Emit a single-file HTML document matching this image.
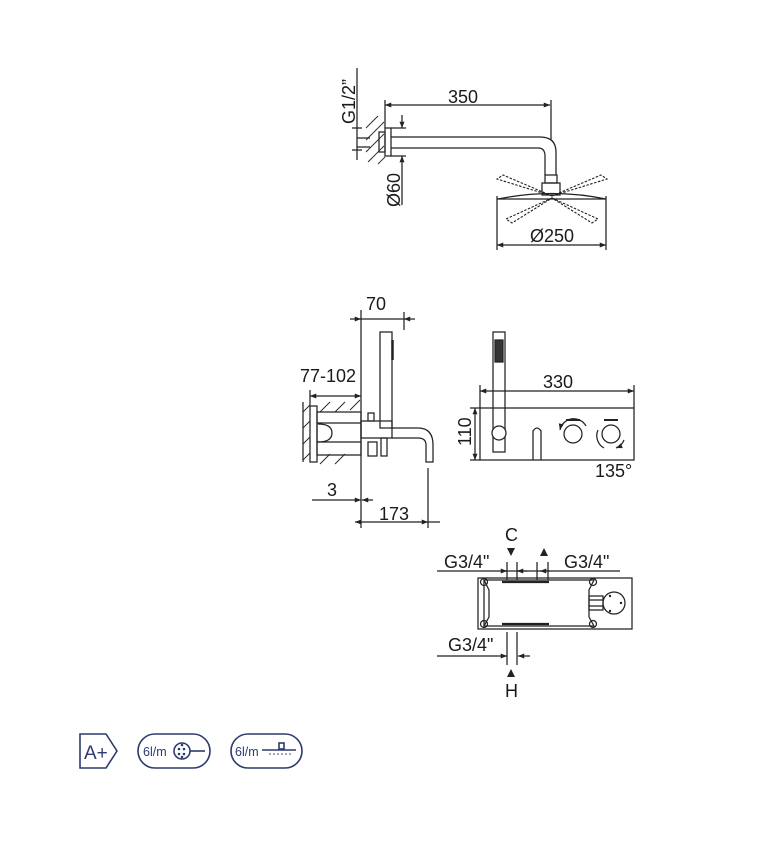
<!DOCTYPE html>
<html><head><meta charset="utf-8"><style>
html,body{margin:0;padding:0;background:#fff;}
svg{display:block;}
text{font-family:"Liberation Sans",sans-serif;fill:#1a1a1a;}
</style></head><body>
<svg width="778" height="853" viewBox="0 0 778 853" xmlns="http://www.w3.org/2000/svg">
<defs>
<marker id="a" viewBox="0 0 10 10" refX="10" refY="5" markerWidth="6" markerHeight="5" orient="auto-start-reverse"><path d="M0,1 L10,5 L0,9 z" fill="#222"/></marker>
</defs>
<g stroke="#222" stroke-width="1.25" fill="none">
<!-- TOP: shower arm -->
<line x1="357" y1="68" x2="357" y2="160"/>
<line x1="352" y1="128" x2="362" y2="128"/><line x1="352" y1="150" x2="362" y2="150"/>
<line x1="357" y1="138" x2="370" y2="138"/><line x1="357" y1="147" x2="370" y2="147"/>
<g stroke-width="0.9">
<line x1="366" y1="128" x2="378" y2="116"/><line x1="366" y1="140" x2="384" y2="122"/><line x1="366" y1="152" x2="384" y2="134"/><line x1="368" y1="162" x2="384" y2="146"/><line x1="378" y1="164" x2="385" y2="157"/>
</g>
<rect x="379" y="132" width="6" height="20"/>
<rect x="385" y="128" width="6" height="28"/>
<line x1="385" y1="105" x2="550" y2="105" marker-start="url(#a)" marker-end="url(#a)"/>
<line x1="385" y1="100" x2="385" y2="128"/><line x1="551" y1="100" x2="551" y2="140"/>
<path d="M391,137 H540 Q556,137 556,152 V175 M391,148 H538 Q545,148 545,156 V175"/>
<line x1="402" y1="115" x2="402" y2="128" marker-end="url(#a)"/>
<line x1="402" y1="205" x2="402" y2="156" marker-end="url(#a)"/>
<line x1="391" y1="128" x2="406" y2="128"/><line x1="391" y1="156" x2="406" y2="156"/>
<rect x="545" y="175" width="12" height="8"/>
<rect x="542" y="183" width="18" height="12"/>
<g stroke-dasharray="2.5 1.5" stroke-width="1.1">
<path d="M552,196 L497,179 L503,175 Z"/><path d="M552,196 L607,179 L601,175 Z"/>
<path d="M552,198 L506,219 L512,223 Z"/><path d="M552,198 L598,219 L592,223 Z"/>
</g>
<path d="M498,199 Q552,188 606,199" />
<line x1="497" y1="196" x2="497" y2="250"/><line x1="606" y1="196" x2="606" y2="250"/>
<line x1="497" y1="199" x2="606" y2="199"/>
<line x1="497" y1="245" x2="606" y2="245" marker-start="url(#a)" marker-end="url(#a)"/>

<!-- MIDDLE LEFT -->
<line x1="361" y1="310" x2="361" y2="528"/>
<line x1="404" y1="312" x2="404" y2="330"/>
<line x1="350" y1="319" x2="361" y2="319" marker-end="url(#a)"/>
<line x1="415" y1="319" x2="404" y2="319" marker-end="url(#a)"/>
<line x1="361" y1="319" x2="404" y2="319"/>
<rect x="380" y="332" width="12" height="96"/>
<line x1="392.5" y1="340" x2="392.5" y2="360" stroke-width="2.5"/>
<line x1="310" y1="396" x2="361" y2="396" marker-start="url(#a)" marker-end="url(#a)"/>
<line x1="310" y1="390" x2="310" y2="405"/>
<line x1="303" y1="402" x2="303" y2="462"/>
<g stroke-width="0.9">
<line x1="303" y1="412" x2="310" y2="405"/><line x1="303" y1="428" x2="310" y2="421"/><line x1="303" y1="444" x2="310" y2="437"/><line x1="303" y1="460" x2="310" y2="453"/>
<line x1="320" y1="412" x2="330" y2="402"/><line x1="335" y1="412" x2="345" y2="402"/><line x1="350" y1="410" x2="360" y2="400"/>
<line x1="320" y1="464" x2="330" y2="454"/><line x1="335" y1="464" x2="345" y2="454"/>
</g>
<rect x="310" y="406" width="7" height="56"/>
<rect x="317" y="412" width="44" height="43"/>
<line x1="317" y1="423" x2="361" y2="423"/><line x1="317" y1="442" x2="361" y2="442"/>
<path d="M318,424 Q332,424 332,433 Q332,442 318,442"/>
<rect x="361" y="421" width="31" height="17"/>
<rect x="368" y="413" width="6" height="8"/>
<rect x="368" y="442" width="9" height="14"/><rect x="381" y="438" width="6" height="18"/>
<path d="M392,428 H418 Q433,428 433,445 V462 H426 V445 Q426,438 418,438 H392"/>
<line x1="428" y1="468" x2="428" y2="528"/>
<line x1="312" y1="500" x2="361" y2="500" marker-end="url(#a)"/>
<line x1="373" y1="500" x2="362" y2="500" marker-end="url(#a)"/>
<line x1="355" y1="522" x2="428" y2="522" marker-start="url(#a)" marker-end="url(#a)"/>
<line x1="428" y1="522" x2="440" y2="522"/>

<!-- MIDDLE RIGHT -->
<rect x="493" y="332" width="12" height="120"/>
<rect x="495" y="340" width="8" height="22" fill="#333"/>
<line x1="480" y1="391" x2="634" y2="391" marker-start="url(#a)" marker-end="url(#a)"/>
<line x1="480" y1="385" x2="480" y2="408"/><line x1="634" y1="385" x2="634" y2="408"/>
<rect x="480" y="408" width="154" height="52"/>
<line x1="475" y1="408" x2="475" y2="460" marker-start="url(#a)" marker-end="url(#a)"/>
<line x1="470" y1="408" x2="480" y2="408"/><line x1="470" y1="460" x2="480" y2="460"/>
<circle cx="499" cy="433" r="7" fill="#fff"/>
<path d="M533,460 V431 Q537,425 541,431 V460"/>
<circle cx="573" cy="434" r="9"/><circle cx="611" cy="434" r="9"/>
<path d="M560,430 A14,14 0 0 1 586,426" marker-start="url(#a)"/>
<path d="M598,430 A14,14 0 0 0 604,448"/>
<path d="M624,440 A14,14 0 0 1 616,448" marker-end="url(#a)"/>
<line x1="566" y1="420" x2="580" y2="420" stroke-width="2"/><line x1="604" y1="420" x2="618" y2="420" stroke-width="2"/>

<!-- BOTTOM -->
<line x1="437" y1="571" x2="620" y2="571"/>
<line x1="503" y1="571" x2="507" y2="571" marker-end="url(#a)"/>
<line x1="527" y1="571" x2="517" y2="571" marker-end="url(#a)"/>
<line x1="550" y1="571" x2="540" y2="571" marker-end="url(#a)"/>
<line x1="507" y1="562" x2="507" y2="580"/><line x1="517" y1="562" x2="517" y2="580"/>
<line x1="537" y1="562" x2="537" y2="580"/><line x1="548" y1="562" x2="548" y2="580"/>
<rect x="478" y="578" width="154" height="51"/>
<path d="M484,580 H594 L589,590 V617 L594,626 H484 L489,617 V590 Z"/>
<line x1="484" y1="580" x2="484" y2="626"/>
<line x1="502" y1="582" x2="549" y2="582" stroke-width="2.2"/>
<line x1="502" y1="624" x2="549" y2="624" stroke-width="2.2"/>
<circle cx="484" cy="582" r="3.5"/><circle cx="593" cy="582" r="3.5"/><circle cx="484" cy="624" r="3.5"/><circle cx="593" cy="624" r="3.5"/>
<rect x="589" y="596" width="14" height="14"/>
<line x1="589" y1="600" x2="603" y2="600"/><line x1="589" y1="606" x2="603" y2="606"/>
<circle cx="614" cy="603" r="11"/>
<line x1="437" y1="656" x2="507" y2="656" marker-end="url(#a)"/>
<line x1="530" y1="656" x2="518" y2="656" marker-end="url(#a)"/>
<line x1="507" y1="632" x2="507" y2="665"/><line x1="517" y1="632" x2="517" y2="665"/>
</g>
<g fill="#222">
<circle cx="610" cy="596" r="1.2"/><circle cx="621" cy="603" r="1.2"/><circle cx="610" cy="611" r="1.2"/>
<path d="M507,548 L515,548 L511,556 Z"/>
<path d="M540,556 L548,556 L544,548 Z"/>
<path d="M507,677 L515,677 L511,669 Z"/>
</g>
<g font-size="18">
<text x="448" y="103">350</text>
<text x="530" y="242">Ø250</text>
<text transform="translate(355,124) rotate(-90)">G1/2”</text>
<text transform="translate(400,207) rotate(-90)">Ø60</text>
<text x="366" y="310">70</text>
<text x="300" y="382">77-102</text>
<text x="327" y="496">3</text>
<text x="379" y="520">173</text>
<text x="543" y="388">330</text>
<text transform="translate(471,446) rotate(-90)">110</text>
<text x="595" y="477">135°</text>
<text x="505" y="541">C</text>
<text x="444" y="568">G3/4"</text>
<text x="564" y="568">G3/4"</text>
<text x="448" y="651">G3/4"</text>
<text x="505" y="697">H</text>
</g>
<!-- badges -->
<g stroke="#2d3a6e" fill="none" stroke-width="1.6">
<path d="M80,734 H106 L117,751 L106,768 H80 Z"/>
<rect x="138" y="734" width="72" height="34" rx="17"/>
<rect x="231" y="734" width="71" height="34" rx="17"/>
<circle cx="182" cy="751" r="8"/>
<line x1="190" y1="751" x2="205" y2="751"/>
<line x1="262" y1="750" x2="296" y2="750"/>
<rect x="279" y="743" width="5" height="6"/>
</g>
<g fill="#2d3a6e">
<text x="84" y="759" font-size="19" style="fill:#2d3a6e">A+</text>
<text x="143" y="756" font-size="12.5" style="fill:#2d3a6e">6l/m</text>
<text x="235" y="756" font-size="12.5" style="fill:#2d3a6e">6l/m</text>
<circle cx="179" cy="749" r="1.3"/><circle cx="184" cy="749" r="1.3"/><circle cx="179" cy="754" r="1.3"/><circle cx="184" cy="754" r="1.3"/><circle cx="182" cy="745" r="1.3"/><circle cx="182" cy="757" r="1.3"/>
<circle cx="270" cy="754" r="0.8"/><circle cx="274" cy="754" r="0.8"/><circle cx="278" cy="754" r="0.8"/><circle cx="282" cy="754" r="0.8"/><circle cx="286" cy="754" r="0.8"/><circle cx="290" cy="754" r="0.8"/>
</g>
</svg>
</body></html>
